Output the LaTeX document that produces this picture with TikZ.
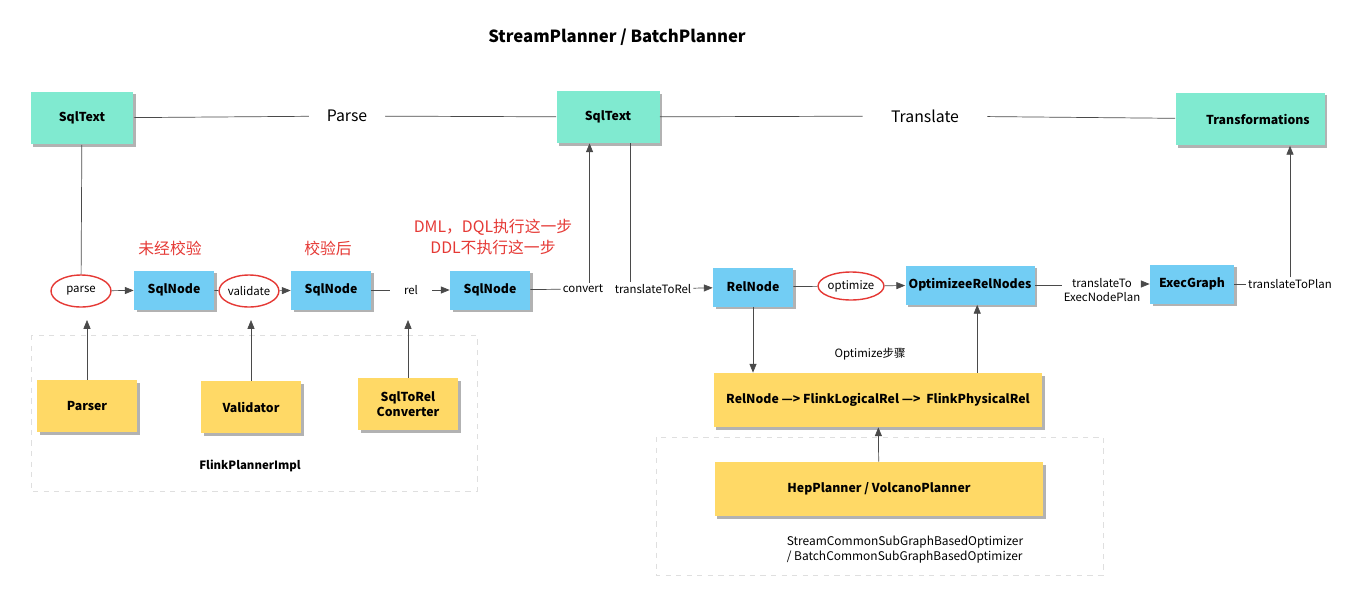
\documentclass[tikz,border=0pt]{standalone}
\usepackage{fontspec}
\setmainfont{Noto Sans CJK SC}
\usetikzlibrary{arrows.meta,shadows,shapes.geometric}

\definecolor{sqlgreen}{HTML}{80EAD0}
\definecolor{nodeblue}{HTML}{72CDF4}
\definecolor{implyellow}{HTML}{FFD966}
\definecolor{notered}{HTML}{E53935}
\definecolor{linegray}{HTML}{4A4A4A}

\tikzset{
  box/.style={inner sep=0pt, align=center, font=\fontsize{7}{8.5}\selectfont\bfseries,
    drop shadow={shadow xshift=1.5pt, shadow yshift=-1.5pt, opacity=0.3, fill=black}},
  textbox/.style={box, fill=sqlgreen, minimum width=2.06cm, minimum height=1.06cm},
  relbox/.style={box, fill=nodeblue, minimum width=1.6cm, minimum height=0.78cm},
  implbox/.style={box, fill=implyellow, minimum width=2cm, minimum height=1.04cm},
  oval/.style={ellipse, draw=notered, thick, minimum width=1.2cm, minimum height=0.64cm,
    inner sep=0pt, font=\fontsize{6.5}{8}\selectfont},
  lbl/.style={font=\fontsize{6.5}{8}\selectfont, align=center, inner sep=1pt},
  note/.style={text=notered, font=\fontsize{9}{12}\selectfont, align=center},
  stage/.style={font=\fontsize{9}{11}\selectfont, inner xsep=10pt},
  flow/.style={draw=linegray, -{Triangle[length=5pt,width=4pt]}},
  link/.style={draw=linegray},
  group/.style={draw=gray!25, dashed},
}

\begin{document}
\begin{tikzpicture}[x=0.02cm, y=-0.02cm]
        \useasboundingbox (0,0) rectangle (1358,595);

        \node[font=\fontsize{9.5}{11}\selectfont\bfseries] (title) at (617,37) {StreamPlanner / BatchPlanner};

        % Top row
        \node[textbox] (sqltext) at (82,118) {SqlText};
        \node[stage] (parsestage) at (347,116) {Parse};
        \node[textbox, minimum height=1.04cm] (sqltext2) at (608,117) {SqlText};
        \node[stage, inner xsep=16pt] (transstage) at (925,116) {Translate};
        \node[textbox, minimum width=2.98cm] (trans) at (1250,119) {\hspace*{9pt}Transformations};
        \draw[link] (sqltext) -- (parsestage) -- (sqltext2) -- (transstage) -- (trans);

        % Main row
        \node[oval] (parse) at (81,291) {parse};
        \node[relbox] (sqlnode1) at (174,290) {SqlNode};
        \node[oval, minimum width=1.1cm] (validate) at (249,291) {validate};
        \node[relbox] (sqlnode2) at (331,290) {SqlNode};
        \node[lbl, inner xsep=8pt] (rel) at (411,290) {rel};
        \node[relbox] (sqlnode3) at (490,290) {SqlNode};
        \node[lbl] (convert) at (583,289) {convert};
        \node[lbl] (torel) at (653,289) {translateToRel};
        \node[relbox] (relnode) at (753,287) {RelNode};
        \node[oval, minimum height=0.56cm] (optimize) at (851,286) {optimize};
        \node[relbox, minimum width=2.58cm] (optnodes) at (970,285) {OptimizeeRelNodes};
        \node[lbl] (toexec) at (1102,290) {translateTo\\ExecNodePlan};
        \node[relbox, minimum width=1.68cm] (execgraph) at (1192,284) {ExecGraph};
        \node[lbl] (toplan) at (1290,284) {translateToPlan};

        \node[note] (unchecked) at (170,248) {未经校验};
        \node[note] (checked) at (328,248) {校验后};
        \node[note] (dmlnote) at (493,237) {DML，DQL执行这一步\\DDL不执行这一步};

        \draw[link] (sqltext) -- (parse);
        \draw[flow] (parse) -- (sqlnode1);
        \draw[link] (sqlnode1) -- (validate);
        \draw[flow] (validate) -- (sqlnode2);
        \draw[link] (sqlnode2) -- (rel);
        \draw[flow] (rel) -- (sqlnode3);
        \draw[link] (sqlnode3) -- (convert);
        \draw[flow] (sqltext2.-125 |- convert.north) -- (sqltext2.-125);
        \draw[link] (sqltext2.-50) -- (sqltext2.-50 |- torel.north);
        \draw[flow] (torel) -- (relnode);
        \draw[link] (relnode) -- (optimize);
        \draw[flow] (optimize) -- (optnodes);
        \draw[link] (optnodes) -- (optnodes -| toexec.west);
        \draw[flow] (toexec.east |- execgraph) -- (execgraph);
        \draw[link] (execgraph) -- (toplan);
        \draw[flow] (toplan.north) -- (toplan.north |- trans.south);

        % FlinkPlannerImpl
        \node[implbox] (parser) at (87,406) {Parser};
        \node[implbox] (validator) at (251,407) {Validator};
        \node[implbox] (converter) at (408,404) {SqlToRel\\Converter};
        \node[font=\fontsize{6.5}{8}\selectfont\bfseries] (impl) at (250,466) {FlinkPlannerImpl};
        \draw[group] (31,335) rectangle (477,491);
        \coordinate (tips) at (0,320);
        \foreach \src in {parser,validator,converter}
           {
                \draw[flow] (\src.north) -- (\src.north |- tips);
           }

        % Optimize
        \node[lbl] (optstep) at (870,354) {Optimize步骤};
        \node[implbox, minimum width=6.58cm, minimum height=1.08cm] (chain) at (878,400) {RelNode —> FlinkLogicalRel —>\ \ FlinkPhysicalRel};
        \node[implbox, minimum width=6.58cm, minimum height=1.08cm] (planner) at (879,489) {HepPlanner / VolcanoPlanner};
        \node[lbl, align=left, font=\fontsize{6.8}{8.5}\selectfont] (optimizer) at (905,550) {StreamCommonSubGraphBasedOptimizer\\/ BatchCommonSubGraphBasedOptimizer};
        \draw[group] (656,437) rectangle (1103,575);
        \draw[flow] (relnode) -- (relnode |- chain.north);
        \draw[flow] (optnodes.-70 |- chain.north) -- (optnodes.-70);
        \draw[flow] (planner) -- (chain);
    \end{tikzpicture}
\end{document}
